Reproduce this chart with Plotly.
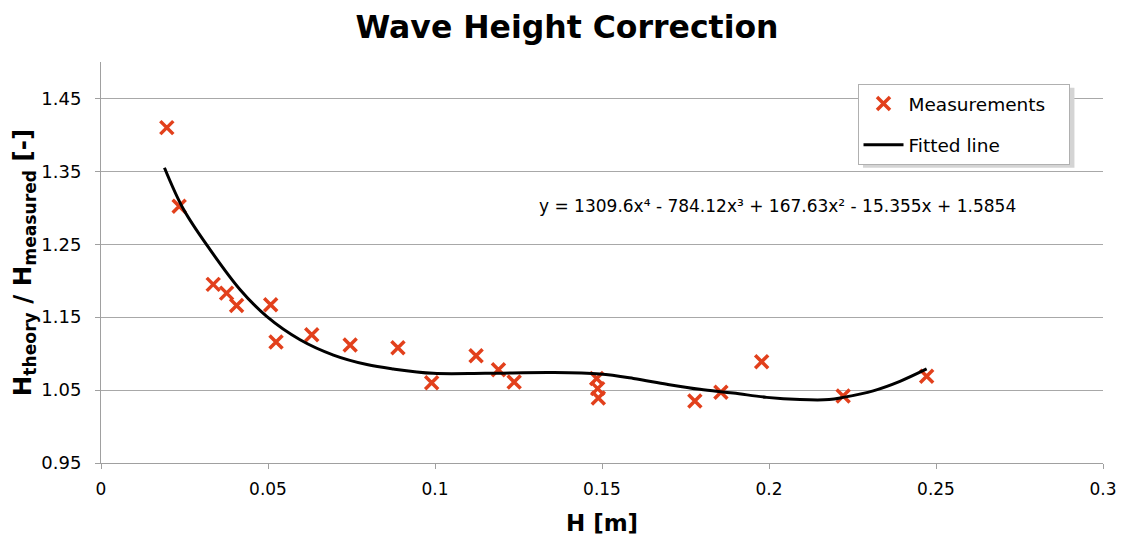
import plotly.graph_objects as go

# Measurements
meas_x = [0.0197, 0.0234, 0.0336, 0.0376, 0.0406, 0.0508, 0.0524, 0.0631, 0.0746, 0.0889,
          0.0990, 0.1123, 0.1190, 0.1237, 0.1484, 0.1487, 0.1489, 0.1778, 0.1856, 0.1978,
          0.2222, 0.2472]
meas_y = [1.410, 1.302, 1.195, 1.183, 1.166, 1.167, 1.116, 1.126, 1.112, 1.108,
          1.060, 1.097, 1.078, 1.061, 1.066, 1.052, 1.039, 1.035, 1.047, 1.089,
          1.042, 1.069]

# Fitted line
fit_x = [0.0190, 0.0247, 0.0326, 0.0416, 0.0496, 0.0596, 0.0696, 0.0796, 0.0875, 0.0995,
         0.1150, 0.1354, 0.1494, 0.1594, 0.1694, 0.1793, 0.1893, 0.1993, 0.2093, 0.2180,
         0.2222, 0.2312, 0.2392, 0.2472]
fit_y = [1.355, 1.298, 1.243, 1.188, 1.151, 1.119, 1.098, 1.085, 1.079, 1.073,
         1.073, 1.074, 1.072, 1.066, 1.058, 1.051, 1.046, 1.040, 1.037, 1.037,
         1.040, 1.049, 1.062, 1.079]

y_ticks = [0.95, 1.05, 1.15, 1.25, 1.35, 1.45]
x_ticks = [0, 0.05, 0.1, 0.15, 0.2, 0.25, 0.3]

equation = "y = 1309.6x\u2074 - 784.12x\u00b3 + 167.63x\u00b2 - 15.355x + 1.5854"

FONT = "DejaVu Sans"
RED = "#e2401c"
PAD = "\u00a0\u00a0\u00a0"

fig = go.Figure()
fig.add_trace(go.Scatter(
    x=meas_x, y=meas_y, mode="markers", name="Measurements" + PAD, legendgroup="m",
    marker=dict(symbol="x-thin", size=13, line=dict(width=3.5, color=RED), color=RED),
))
fig.add_trace(go.Scatter(
    x=fit_x, y=fit_y, mode="lines", name="Fitted line", legendgroup="f",
    line=dict(color="black", width=3, shape="spline"),
))

# The page body adds an 8px offset, so the figure is 8px smaller than the window.
fig.update_layout(
    width=1118, height=538,
    margin=dict(l=93, r=23, t=54, b=83),
    paper_bgcolor="white", plot_bgcolor="white",
    font=dict(family=FONT, size=16, color="black"),
    title=dict(text="<b>Wave Height Correction</b>", x=0.5, xanchor="center",
               y=0.965, yanchor="middle", font=dict(family=FONT, size=31.5, color="black")),
    showlegend=True,
    legend=dict(x=0.755, y=0.945, xanchor="left", yanchor="top",
                bgcolor="white", bordercolor="#b0b0b0", borderwidth=1,
                font=dict(family=FONT, size=18.5, color="black"),
                tracegroupgap=14, itemwidth=40),
    shapes=[dict(type="rect", xref="paper", yref="paper",
                 x0=0.7605, x1=0.9715, y0=0.736, y1=0.936,
                 fillcolor="#d4d4d4", line=dict(width=0), layer="above")],
)
fig.update_xaxes(
    range=[0, 0.3], tickvals=x_ticks, ticktext=["0", "0.05", "0.1", "0.15", "0.2", "0.25", "0.3"],
    showgrid=False, zeroline=False, showline=True, linecolor="#a0a0a0", linewidth=1,
    ticks="outside", ticklen=5, tickcolor="#a0a0a0", automargin=False,
    ticklabelstandoff=6,
    tickfont=dict(family=FONT, size=17),
    title=dict(text="<b>H [m]</b>", font=dict(family=FONT, size=23), standoff=16),
)
fig.update_yaxes(
    range=[0.95, 1.5], tickvals=y_ticks, ticktext=["0.95", "1.05", "1.15", "1.25", "1.35", "1.45"],
    showgrid=True, gridcolor="#a8a8a8", gridwidth=1, zeroline=False,
    showline=True, linecolor="#a0a0a0", linewidth=1, automargin=False,
    ticks="outside", ticklen=5, tickcolor="#a0a0a0",
    ticklabelstandoff=10,
    tickfont=dict(family=FONT, size=18),
    title=dict(text="<b>H<sub>theory</sub> / H<sub>measured</sub> [-]</b>",
               font=dict(family=FONT, size=24.5), standoff=7),
)
fig.add_annotation(
    x=0.1305, y=1.302, xref="x", yref="y", text=equation, showarrow=False,
    xanchor="left", yanchor="middle", font=dict(family=FONT, size=17, color="black"),
)
fig.write_html("out.html")
